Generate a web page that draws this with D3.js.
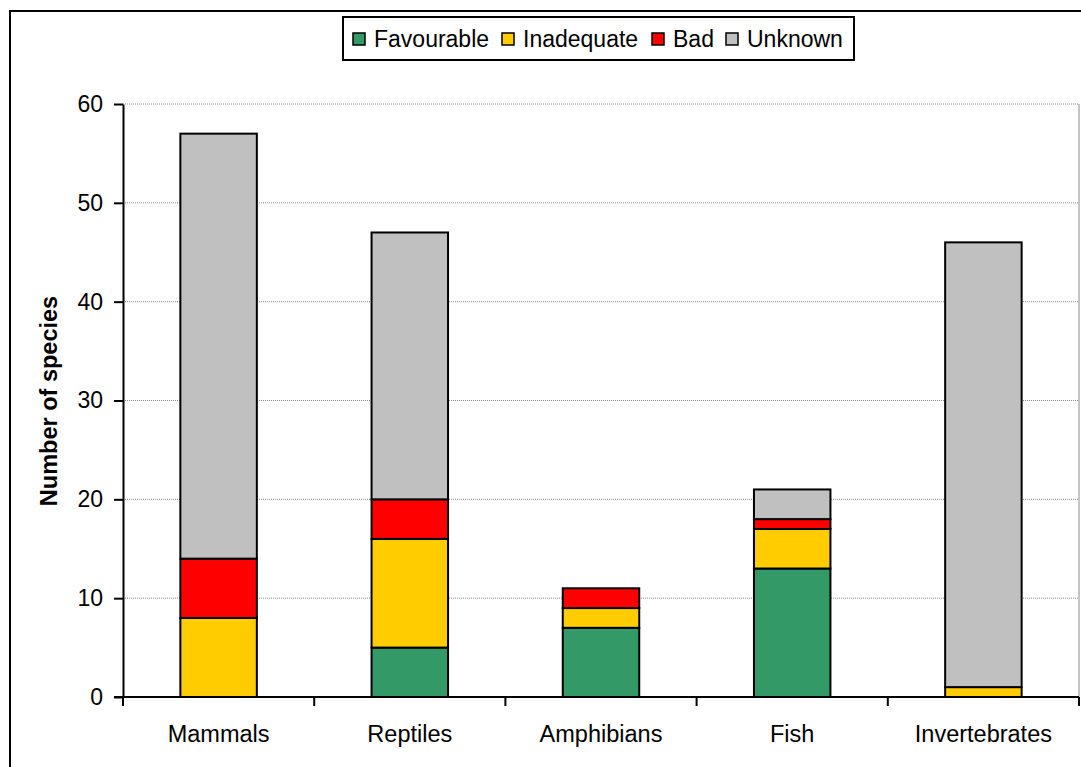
<!DOCTYPE html>
<html>
<head>
<meta charset="utf-8">
<script src="https://cdn.jsdelivr.net/npm/d3@7/dist/d3.min.js"></script>
<style>
  html, body { margin: 0; padding: 0; background: #fff; }
  svg { display: block; font-family: "Liberation Sans", Arial, sans-serif; }
</style>
</head>
<body>
<svg id="chart" width="1081" height="767"></svg>
<script>
// Species groups and conservation status counts
const categories = ["Mammals", "Reptiles", "Amphibians", "Fish", "Invertebrates"];
const statuses = ["Favourable", "Inadequate", "Bad", "Unknown"];
const favourable = [0, 5, 7, 13, 0];
const inadequate = [8, 11, 2, 4, 1];
const bad = [6, 4, 2, 1, 0];
const unknown = [43, 27, 0, 3, 45];
const yTicks = [0, 10, 20, 30, 40, 50, 60];
const colors = ["#339966", "#FFCC00", "#FF0000", "#C0C0C0"];

const rows = categories.map((c, i) => ({
  category: c,
  Favourable: favourable[i],
  Inadequate: inadequate[i],
  Bad: bad[i],
  Unknown: unknown[i]
}));

const svg = d3.select("#chart");
const plot = { left: 123, right: 1079, top: 104, bottom: 697 };

// Outer chart frame (runs off the right and bottom edges)
svg.append("rect")
  .attr("x", 10).attr("y", 11)
  .attr("width", 1100).attr("height", 800)
  .attr("fill", "none").attr("stroke", "#000").attr("stroke-width", 2);

const x = d3.scaleBand().domain(categories).range([plot.left, plot.right]).padding(0);
const y = d3.scaleLinear().domain([0, 60]).range([plot.bottom, plot.top]);

// Gridlines
svg.append("g").selectAll("line")
  .data(yTicks.filter(t => t > 0))
  .join("line")
  .attr("x1", plot.left).attr("x2", plot.right)
  .attr("y1", d => y(d)).attr("y2", d => y(d))
  .attr("stroke", "#8c8c8c").attr("stroke-width", 1)
  .attr("stroke-dasharray", "1,1");

// Right edge of the plot area
svg.append("line")
  .attr("x1", plot.right).attr("x2", plot.right)
  .attr("y1", plot.top).attr("y2", plot.bottom)
  .attr("stroke", "#b0b0b0").attr("stroke-width", 1.5);

// Stacked bars
const stacked = d3.stack().keys(statuses)(rows);
const barW = x.bandwidth() * 0.4;
const layers = svg.append("g").selectAll("g")
  .data(stacked)
  .join("g")
  .attr("fill", (d, i) => colors[i]);

layers.selectAll("rect")
  .data(d => d.filter(s => s[1] - s[0] > 0))
  .join("rect")
  .attr("x", d => x(d.data.category) + (x.bandwidth() - barW) / 2)
  .attr("width", barW)
  .attr("y", d => y(d[1]))
  .attr("height", d => y(d[0]) - y(d[1]))
  .attr("stroke", "#000")
  .attr("stroke-width", 2);

// Y axis
const yAxis = svg.append("g")
  .attr("transform", `translate(${plot.left},0)`)
  .call(d3.axisLeft(y).tickValues(yTicks).tickSize(9).tickPadding(11).tickSizeOuter(0));
yAxis.select(".domain").attr("stroke", "#000").attr("stroke-width", 2);
yAxis.selectAll(".tick line").attr("stroke", "#000").attr("stroke-width", 2);
yAxis.selectAll(".tick text")
  .attr("font-size", 23).attr("fill", "#000")
  .attr("font-family", "Liberation Sans, Arial, sans-serif");

// X axis with category separators
const xAxisG = svg.append("g").attr("transform", `translate(0,${plot.bottom})`);
xAxisG.append("line")
  .attr("x1", plot.left - 9).attr("x2", plot.right)
  .attr("stroke", "#000").attr("stroke-width", 2);
const bounds = categories.map(c => x(c)).concat([plot.right]);
xAxisG.selectAll("line.sep")
  .data(bounds)
  .join("line")
  .attr("class", "sep")
  .attr("x1", d => d).attr("x2", d => d)
  .attr("y1", 0).attr("y2", 9)
  .attr("stroke", "#000").attr("stroke-width", 2);
xAxisG.selectAll("text")
  .data(categories)
  .join("text")
  .attr("x", d => x(d) + x.bandwidth() / 2)
  .attr("y", 45)
  .attr("text-anchor", "middle")
  .attr("font-size", 23.5)
  .text(d => d);

// Y axis title
svg.append("text")
  .attr("transform", "translate(57,401) rotate(-90)")
  .attr("text-anchor", "middle")
  .attr("font-size", 23.5)
  .attr("font-weight", "bold")
  .text("Number of species");

// Legend
const legendX = [353, 502, 652, 726];
const legend = svg.append("g");
legend.append("rect")
  .attr("x", 343).attr("y", 17)
  .attr("width", 511).attr("height", 43)
  .attr("fill", "#fff").attr("stroke", "#000").attr("stroke-width", 2);
const items = legend.selectAll("g.item")
  .data(statuses)
  .join("g").attr("class", "item")
  .attr("transform", (d, i) => `translate(${legendX[i]},0)`);
items.append("rect")
  .attr("x", 0).attr("y", 33)
  .attr("width", 12).attr("height", 12)
  .attr("fill", (d, i) => colors[i])
  .attr("stroke", "#000").attr("stroke-width", 1.5);
items.append("text")
  .attr("x", 21).attr("y", 47)
  .attr("font-size", 23)
  .text(d => d);
</script>
</body>
</html>
